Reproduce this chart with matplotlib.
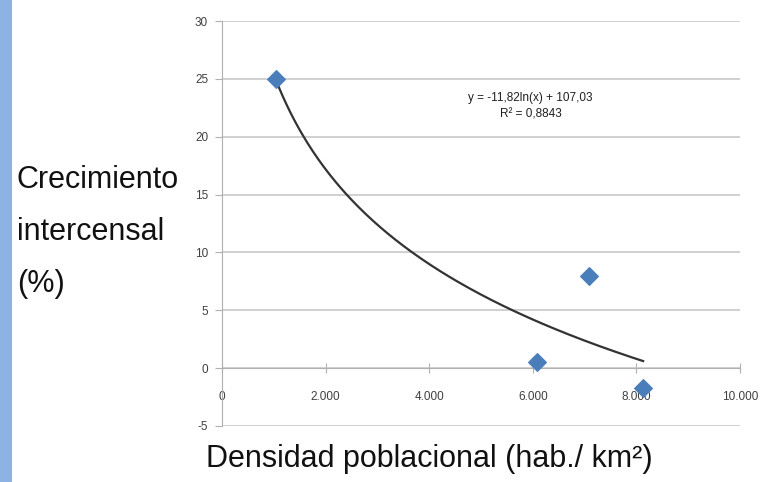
import numpy as np
import matplotlib.pyplot as plt
from matplotlib.patches import Rectangle
from matplotlib.ticker import FuncFormatter

plt.rcParams["axes.unicode_minus"] = False

# data
densidad = [1040, 6080, 7090, 8130]
crecimiento = [25.0, 0.5, 8.0, -1.7]

# logarithmic trendline shown on the chart
coef_a = -11.82
coef_b = 107.03
ecuacion = "y = -11,82ln(x) + 107,03"
r2_texto = "R² = 0,8843"

y_ticks = [-5, 0, 5, 10, 15, 20, 25, 30]
x_ticks = [0, 2000, 4000, 6000, 8000, 10000]

fig = plt.figure(figsize=(7.65, 4.82), dpi=100)
fig.patch.set_facecolor("white")

# blue band on the left edge of the slide
fig.patches.append(Rectangle((0, 0), 12 / 765, 1, transform=fig.transFigure,
                             facecolor="#8DB3E2", edgecolor="none"))

ax = fig.add_axes([222 / 765, 1 - 426 / 482, (740 - 222) / 765, (426 - 21) / 482])

ax.set_xlim(0, 10000)
ax.set_ylim(-5, 30)
ax.set_yticks(y_ticks)
ax.set_xticks(x_ticks)
ax.yaxis.grid(True, color="#C8C8C8", linewidth=1.2)
ax.set_axisbelow(True)

for s in ["top", "right"]:
    ax.spines[s].set_visible(False)
ax.spines["bottom"].set_position(("data", 0))
ax.spines["bottom"].set_color("#B0B0B0")
ax.spines["left"].set_color("#B0B0B0")

fmt = FuncFormatter(lambda v, p: f"{int(v):,}".replace(",", "."))
ax.xaxis.set_major_formatter(fmt)
ax.tick_params(axis="x", direction="inout", length=7, color="#B0B0B0",
               labelsize=8.5, labelcolor="#404040", pad=13)
ax.tick_params(axis="y", direction="out", length=5, color="#B0B0B0",
               labelsize=8.5, labelcolor="#404040", pad=5)
for lab in ax.get_xticklabels() + ax.get_yticklabels():
    lab.set_family("Liberation Sans")

# trendline
xs = np.linspace(min(densidad), max(densidad), 200)
ax.plot(xs, coef_a * np.log(xs) + coef_b, color="#333333", linewidth=1.6, zorder=2)

ax.scatter(densidad, crecimiento, marker="D", s=80, color="#4A7EBB",
           edgecolors="#4A7EBB", zorder=3)

ax.text(5960, 22.6, ecuacion + "\n" + r2_texto, ha="center", va="center",
        fontsize=8.5, family="Liberation Sans", color="#202020",
        linespacing=1.5)

fig.text(17 / 765, 1 - 232 / 482, "Crecimiento\nintercensal\n(%)", ha="left",
         va="center", fontsize=22, family="Liberation Sans",
         color="#111111", linespacing=1.95)
fig.text(429 / 765, 1 - 459 / 482, "Densidad poblacional (hab./ km²)", ha="center",
         va="center", fontsize=22, family="Liberation Sans", color="#111111")

fig.savefig("out.png", dpi=100)
